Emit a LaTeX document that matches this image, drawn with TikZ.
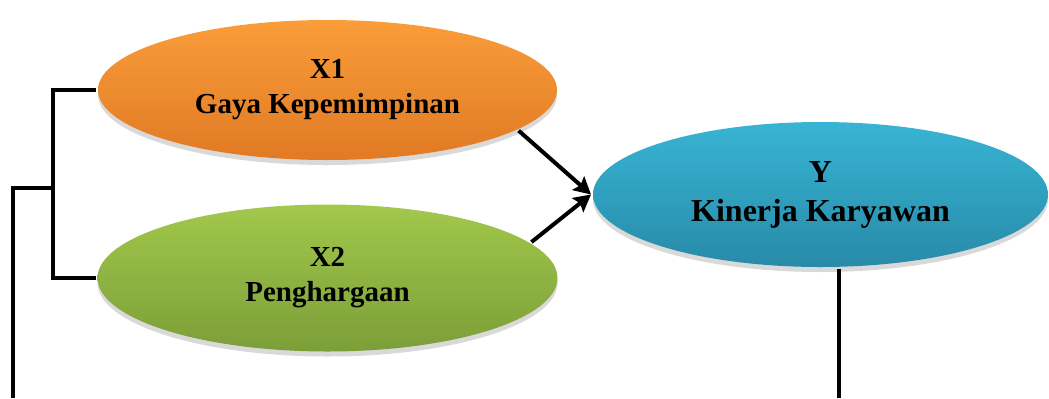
\documentclass[tikz,border=0pt]{standalone}
\usepackage{fontspec}
\setmainfont{Liberation Serif}
\usepackage{tikz}
\usetikzlibrary{arrows.meta,shapes.geometric,shadows}

\definecolor{orTop}{RGB}{250,157,58}
\definecolor{orBot}{RGB}{224,122,36}
\definecolor{grTop}{RGB}{162,200,76}
\definecolor{grBot}{RGB}{124,158,56}
\definecolor{blTop}{RGB}{56,180,212}
\definecolor{blBot}{RGB}{40,138,168}

\begin{document}
\begin{tikzpicture}[-,>={Stealth[length=8.5pt,width=9pt,inset=1.5pt]},x=0.5pt,y=-0.5pt,line width=2pt,
			node distance=94pt,
			var/.style={ellipse,inner sep=0pt,align=center,
				font=\bfseries\fontsize{14.5}{17.5}\selectfont,
				drop shadow={shadow xshift=0pt,shadow yshift=-2.5pt,opacity=0.3}}]
			
			\useasboundingbox (0,0) rectangle (1049,398);
			
			\node[var,top color=orTop,bottom color=orBot,
				minimum width=229.5pt,minimum height=70pt] (X1) at (327.5,90) {X1\\Gaya Kepemimpinan};
			\node[var,top color=grTop,bottom color=grBot,
				minimum width=230pt,minimum height=73.5pt] (X2) [below of = X1] {X2\\Penghargaan};
			\node[var,top color=blTop,bottom color=blBot,
				minimum width=227.5pt,minimum height=72.5pt,
				font=\bfseries\fontsize{16}{19.5}\selectfont] (Y) at (820.5,194.5) {Y\\Kinerja Karyawan};
			
			\coordinate (mid) at (55,188);
			\coordinate (leftend) at (13,398);
			\coordinate (yend) at (839,398);
			
			\draw (X1.west) -- ++(-43,0) |- (X2.west);
			\draw (mid) -| (leftend);
			\draw (Y.south -| yend) -- (yend);
			
			\draw[->] (X1.-12) -- (Y.west);
			\draw[->] (X2.10) -- (Y.west);
					\end{tikzpicture}
\end{document}
